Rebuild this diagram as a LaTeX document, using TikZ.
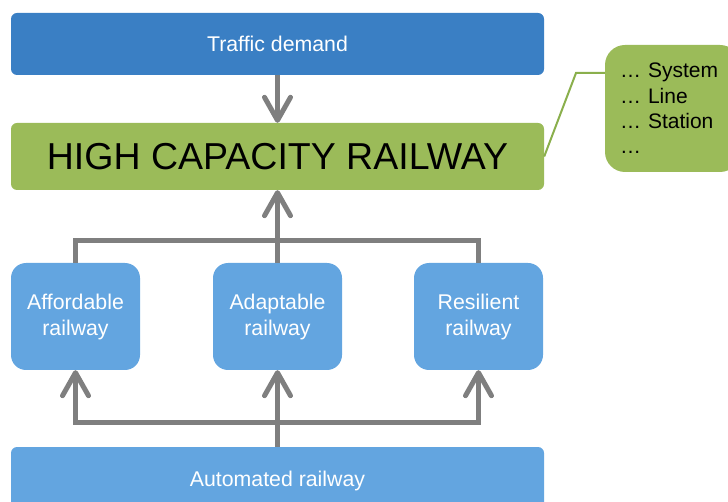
\documentclass[tikz,border=0pt]{standalone}
\usepackage{fontspec}
\setmainfont{Liberation Sans}
\usetikzlibrary{arrows.meta}
\definecolor{darkblue}{HTML}{3A7FC4}
\definecolor{lightblue}{HTML}{63A5E0}
\definecolor{hcgreen}{HTML}{9BBB59}
\definecolor{lnkgreen}{HTML}{8AAF4C}
\definecolor{arrgray}{HTML}{7F7F7F}
\begin{document}
\begin{tikzpicture}[x=1pt,y=-1pt,
  wide/.style={rectangle, rounded corners=6pt, minimum width=533pt, inner sep=0pt},
  smallbox/.style={rectangle, rounded corners=15pt, fill=lightblue, text=white, minimum width=129pt, minimum height=107pt, align=center, inner sep=0pt, font=\fontsize{21.3}{26}\selectfont},
  conn/.style={draw=arrgray, line width=5pt},
  >={Straight Barb[length=23pt,width=26pt,round]}
]
\useasboundingbox (0,0) rectangle (728,502);
% top
\node[wide, fill=darkblue, text=white, minimum height=62pt, font=\fontsize{21.3}{25}\selectfont] (traffic) at (277.5,44) {Traffic demand};
\node[wide, fill=hcgreen, text=black, minimum height=67pt, font=\fontsize{37.5}{40}\selectfont] (hcr) at (277.5,156.5) {HIGH CAPACITY RAILWAY};
% three pillars
\node[smallbox] (aff) at (75.5,316.5) {Affordable\\railway};
\node[smallbox] (ada) at (277.5,316.5) {Adaptable\\railway};
\node[smallbox] (res) at (478.5,316.5) {Resilient\\railway};
% bottom
\node[wide, fill=lightblue, text=white, minimum height=68pt, font=\fontsize{21.3}{25}\selectfont] (auto) at (277.5,481) {Automated railway};
% callout
\node[rectangle, rounded corners=20pt, fill=hcgreen, text=black, minimum width=135pt, minimum height=127pt, text width=105pt, inner xsep=15pt, align=left, font=\fontsize{21}{25.3}\selectfont] (callout) at (672.5,108.5) {… System\\… Line\\… Station\\…};
\coordinate (bend) at (576,73);
\draw[draw=lnkgreen, line width=2pt] (hcr.east) -- (bend) -- (bend -| callout.west);
% connectors
\draw[conn,->] (traffic.south) -- (hcr.north);
\draw[conn] (aff.north) -- ++(0,-22) -| (res.north);
\draw[conn,->] (ada.north) -- (hcr.south);
\draw[conn,<->] (aff.south) -- ++(0,52) -| (res.south);
\draw[conn,->] (auto.north) -- (ada.south);
\end{tikzpicture}
\end{document}
